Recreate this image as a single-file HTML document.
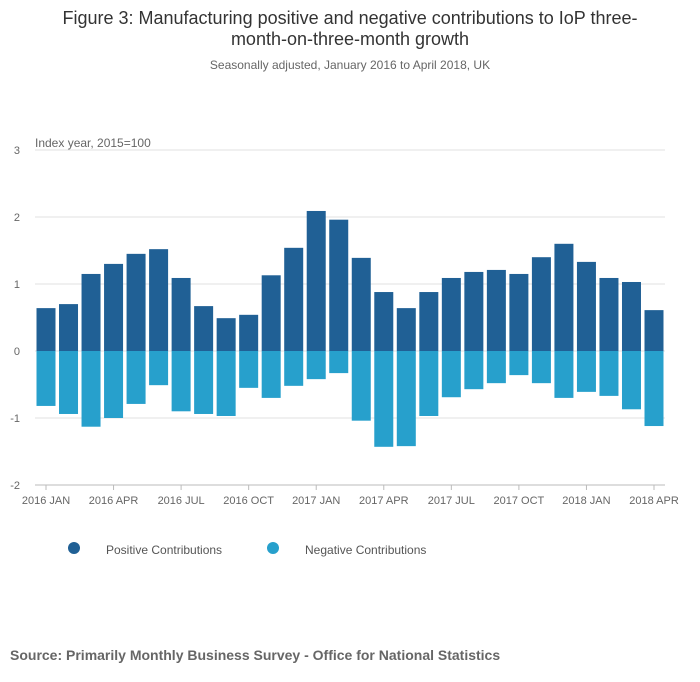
<!DOCTYPE html>
<html><head><meta charset="utf-8"><style>
body{margin:0;background:#fff;font-family:"Liberation Sans",sans-serif;}
#wrap{position:relative;width:700px;height:682px;overflow:hidden;}
</style></head><body>
<div id="wrap">
<svg id="chart" width="700" height="682" xmlns="http://www.w3.org/2000/svg">
<text x="350" y="24" text-anchor="middle" font-size="18" fill="#333">Figure 3: Manufacturing positive and negative contributions to IoP three-</text>
<text x="350" y="45" text-anchor="middle" font-size="18" fill="#333">month-on-three-month growth</text>
<text x="350" y="69" text-anchor="middle" font-size="12" fill="#666">Seasonally adjusted, January 2016 to April 2018, UK</text>
<text x="35" y="147" font-size="12" fill="#666">Index year, 2015=100</text>
<g id="grid"></g><g id="bars"></g><g id="xaxis"></g>
<circle cx="74" cy="548" r="6" fill="#206095"/>
<text x="106" y="554" font-size="12" fill="#555">Positive Contributions</text>
<circle cx="273" cy="548" r="6" fill="#27a0cc"/>
<text x="305" y="554" font-size="12" fill="#555">Negative Contributions</text>
<text x="10" y="660" font-size="14" font-weight="bold" fill="#666">Source: Primarily Monthly Business Survey - Office for National Statistics</text>
</svg>
</div>
<script>
const categories=["2016 JAN","2016 FEB","2016 MAR","2016 APR","2016 MAY","2016 JUN","2016 JUL","2016 AUG","2016 SEP","2016 OCT","2016 NOV","2016 DEC","2017 JAN","2017 FEB","2017 MAR","2017 APR","2017 MAY","2017 JUN","2017 JUL","2017 AUG","2017 SEP","2017 OCT","2017 NOV","2017 DEC","2018 JAN","2018 FEB","2018 MAR","2018 APR"];
const positive=[0.64,0.70,1.15,1.30,1.45,1.52,1.09,0.67,0.49,0.54,1.13,1.54,2.09,1.96,1.39,0.88,0.64,0.88,1.09,1.18,1.21,1.15,1.40,1.60,1.33,1.09,1.03,0.61];
const negative=[-0.82,-0.94,-1.13,-1.00,-0.79,-0.51,-0.90,-0.94,-0.97,-0.55,-0.70,-0.52,-0.42,-0.33,-1.04,-1.43,-1.42,-0.97,-0.69,-0.57,-0.48,-0.36,-0.48,-0.70,-0.61,-0.67,-0.87,-1.12];
const yTicks=[3,2,1,0,-1,-2];
const xTickLabels=["2016 JAN","2016 APR","2016 JUL","2016 OCT","2017 JAN","2017 APR","2017 JUL","2017 OCT","2018 JAN","2018 APR"];
const NS="http://www.w3.org/2000/svg";
const y=v=>351-v*67;
const x=i=>46+i*(654-46)/(categories.length-1);
function mk(t,a,p){const e=document.createElementNS(NS,t);for(const k in a)e.setAttribute(k,a[k]);p.appendChild(e);return e;}
const grid=document.getElementById('grid'),bars=document.getElementById('bars'),xa=document.getElementById('xaxis');
yTicks.forEach(v=>{
 const l=mk('line',{x1:35,x2:665,y1:y(v),y2:y(v),stroke:v===-2?'#bbb':'#e0e0e0','stroke-width':1},grid);
 
 
 const t=mk('text',{x:20,y:y(v)+4,'text-anchor':'end','font-size':11,fill:'#666'},grid);
 t.textContent=v;
 
 
});
const bw=19;
categories.forEach((c,i)=>{
 const p=mk('rect',{x:x(i)-bw/2,y:y(positive[i]),width:bw,height:y(0)-y(positive[i]),fill:'#206095'},bars);
 
 
 const n=mk('rect',{x:x(i)-bw/2,y:y(0),width:bw,height:y(negative[i])-y(0),fill:'#27a0cc'},bars);
 
 
});
xTickLabels.forEach(lab=>{
 const i=categories.indexOf(lab);
 const tk=mk('line',{x1:x(i),x2:x(i),y1:485,y2:490,stroke:'#bbb'},xa);
 
 
 const t=mk('text',{x:x(i),y:504,'text-anchor':'middle','font-size':11,fill:'#666'},xa);
 t.textContent=lab;
 
 
});
</script>
</body></html>
